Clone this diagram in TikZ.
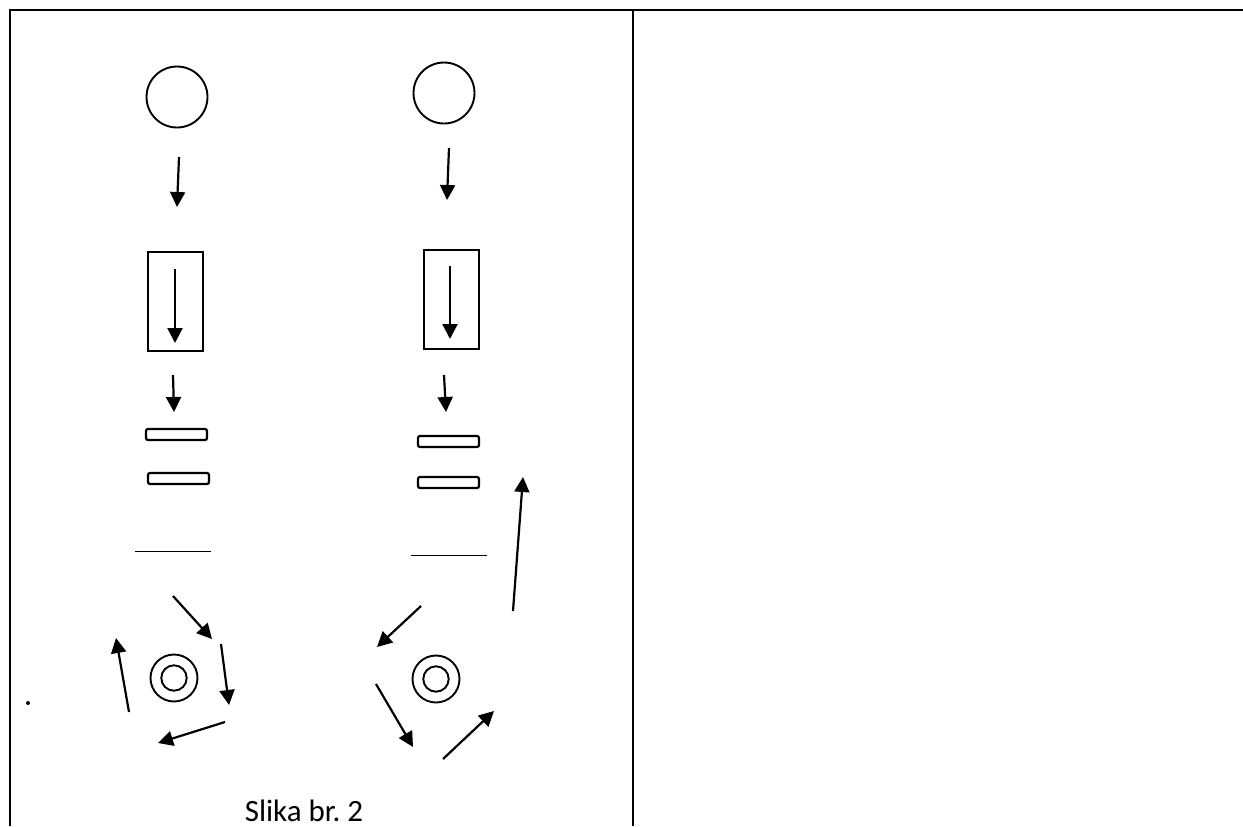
\documentclass[tikz,border=0pt]{standalone}
\usepackage{fontspec}
\setmainfont{Carlito}
\usetikzlibrary{arrows.meta}

\begin{document}
\begin{tikzpicture}[x=0.5pt,y=-0.5pt,
  arr/.style={-{Triangle[length=7.5pt,width=7.5pt]},line width=1.1pt},
  bar/.style={line width=1.1pt,rounded corners=1pt},
  ring/.style={line width=0.95pt}]

\useasboundingbox (0,0) rectangle (1243,826);

% frame
\draw [line width=1.1pt] (10,826) -- (10,10) -- (1243,10);
\draw [line width=1.1pt] (633,10) -- (633,826);

% left column
\draw [ring] (177,97) circle (30.5);
\draw [arr] (179,157) -- (177,207);
\draw [ring] (148,252) rectangle (203,351);
\draw [arr] (175,269) -- (175,343);
\draw [arr] (173,375) -- (174,412);
\draw [bar] (146,429) rectangle (207,440);
\draw [bar] (148,473) rectangle (209,484);
\draw [line width=0.5pt] (135,551) -- (211,551);

\draw [ring] (174,678) circle (23.5);
\draw [ring] (174,678) circle (12.7);
\draw [arr] (173,596) -- (212,639);
\draw [arr] (221,644) -- (229,705);
\draw [arr] (225,722) -- (158,743);
\draw [arr] (129,712) -- (116,638);

\fill (28,703) circle (2);

% right column
\draw [ring] (444,93) circle (30.5);
\draw [arr] (449,148) -- (447,200);
\draw [ring] (424,250) rectangle (479,349);
\draw [arr] (450,266) -- (450,339);
\draw [arr] (444,375) -- (446,412);
\draw [bar] (418,436) rectangle (479,447);
\draw [bar] (418,477) rectangle (479,488);
\draw [line width=0.5pt] (411,555) -- (487,555);

\draw [ring] (436,679) circle (23.5);
\draw [ring] (436,679) circle (12.7);
\draw [arr] (421,606) -- (377,647);
\draw [arr] (376,684) -- (413,747);
\draw [arr] (443,759) -- (494,711);
\draw [arr] (513,611) -- (523,477);

\node [anchor=base,font=\fontsize{15.5}{18}\selectfont] (caption) at (304,821) {Slika br.\ 2};

\end{tikzpicture}
\end{document}
